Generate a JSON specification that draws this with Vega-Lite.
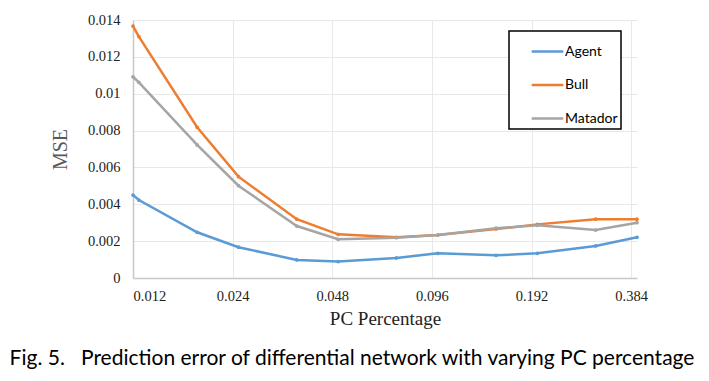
{
  "$schema": "https://vega.github.io/schema/vega-lite/v6.json",
  "width": 504,
  "height": 258,
  "autosize": "none",
  "padding": {"left": 133, "top": 20, "right": 72, "bottom": 103},
  "background": "white",
  "title": {
    "text": "Fig. 5.\u00a0\u00a0\u00a0Prediction error of differential network with varying PC percentage",
    "orient": "bottom",
    "anchor": "middle",
    "dx": -33,
    "offset": 19,
    "font": "Lato",
    "fontSize": 21,
    "fontWeight": "normal",
    "color": "#000000"
  },
  "data": {
    "values": [
      {"pc": 0.012, "mse": 0.0045, "series": "Agent"},
      {"pc": 0.0125, "mse": 0.00423, "series": "Agent"},
      {"pc": 0.01875, "mse": 0.00248, "series": "Agent"},
      {"pc": 0.025, "mse": 0.00167, "series": "Agent"},
      {"pc": 0.0375, "mse": 0.00098, "series": "Agent"},
      {"pc": 0.05, "mse": 0.00089, "series": "Agent"},
      {"pc": 0.075, "mse": 0.00109, "series": "Agent"},
      {"pc": 0.1, "mse": 0.00134, "series": "Agent"},
      {"pc": 0.15, "mse": 0.00123, "series": "Agent"},
      {"pc": 0.2, "mse": 0.00134, "series": "Agent"},
      {"pc": 0.3, "mse": 0.00174, "series": "Agent"},
      {"pc": 0.4, "mse": 0.00221, "series": "Agent"},
      {"pc": 0.012, "mse": 0.01367, "series": "Bull"},
      {"pc": 0.0125, "mse": 0.0131, "series": "Bull"},
      {"pc": 0.01875, "mse": 0.00818, "series": "Bull"},
      {"pc": 0.025, "mse": 0.0055, "series": "Bull"},
      {"pc": 0.0375, "mse": 0.00319, "series": "Bull"},
      {"pc": 0.05, "mse": 0.00237, "series": "Bull"},
      {"pc": 0.075, "mse": 0.00221, "series": "Bull"},
      {"pc": 0.1, "mse": 0.00233, "series": "Bull"},
      {"pc": 0.15, "mse": 0.00266, "series": "Bull"},
      {"pc": 0.2, "mse": 0.00291, "series": "Bull"},
      {"pc": 0.3, "mse": 0.00319, "series": "Bull"},
      {"pc": 0.4, "mse": 0.00319, "series": "Bull"},
      {"pc": 0.012, "mse": 0.01092, "series": "Matador"},
      {"pc": 0.0125, "mse": 0.01062, "series": "Matador"},
      {"pc": 0.01875, "mse": 0.00722, "series": "Matador"},
      {"pc": 0.025, "mse": 0.00501, "series": "Matador"},
      {"pc": 0.0375, "mse": 0.00282, "series": "Matador"},
      {"pc": 0.05, "mse": 0.0021, "series": "Matador"},
      {"pc": 0.075, "mse": 0.00219, "series": "Matador"},
      {"pc": 0.1, "mse": 0.00233, "series": "Matador"},
      {"pc": 0.15, "mse": 0.0027, "series": "Matador"},
      {"pc": 0.2, "mse": 0.00286, "series": "Matador"},
      {"pc": 0.3, "mse": 0.0026, "series": "Matador"},
      {"pc": 0.4, "mse": 0.003, "series": "Matador"}
    ]
  },
  "encoding": {
    "x": {
      "field": "pc",
      "type": "quantitative",
      "scale": {"type": "log", "base": 2, "domain": [0.012, 0.4], "nice": false},
      "axis": {
        "title": "PC Percentage",
        "values": [0.012, 0.024, 0.048, 0.096, 0.192, 0.384],
        "format": ".3f",
        "labelFont": "Liberation Serif",
        "labelFontSize": 14.5,
        "labelColor": "#222222",
        "labelPadding": 11,
        "ticks": false,
        "grid": true,
        "gridColor": "#e8e8e8",
        "domainColor": "#c8c8c8",
        "domainWidth": 1.5,
        "titleFont": "Liberation Serif",
        "titleFontSize": 19,
        "titleFontWeight": "normal",
        "titleColor": "#222222",
        "titlePadding": 7
      }
    },
    "y": {
      "field": "mse",
      "type": "quantitative",
      "scale": {"domain": [0, 0.014], "nice": false},
      "axis": {
        "title": "MSE",
        "values": [0, 0.002, 0.004, 0.006, 0.008, 0.01, 0.012, 0.014],
        "format": "~g",
        "labelFont": "Liberation Serif",
        "labelFontSize": 14.5,
        "labelColor": "#222222",
        "labelPadding": 13,
        "ticks": false,
        "grid": true,
        "gridColor": "#e8e8e8",
        "domainColor": "#c8c8c8",
        "domainWidth": 1.5,
        "titleFont": "Liberation Serif",
        "titleFontSize": 20,
        "titleFontWeight": "normal",
        "titleColor": "#595959",
        "titlePadding": 17
      }
    },
    "color": {
      "field": "series",
      "type": "nominal",
      "scale": {"domain": ["Agent", "Bull", "Matador"], "range": ["#5B9BD5", "#ED7D31", "#A5A5A5"]},
      "legend": {
        "title": null,
        "orient": "none",
        "legendX": 376,
        "legendY": 11,
        "symbolType": "stroke",
        "symbolSize": 1000,
        "symbolStrokeWidth": 2.5,
        "symbolOffset": 18,
        "labelFont": "Lato",
        "labelFontSize": 14,
        "labelColor": "#000000",
        "labelOffset": 0,
        "labelExpr": "datum.label + '\u00a0\u00a0\u00a0\u00a0\u00a0\u00a0\u00a0\u00a0'",
        "rowPadding": 8.5,
        "padding": 3,
        "strokeColor": "#000000",
        "fillColor": "white",
        "encode": {"legend": {"update": {"strokeWidth": {"value": 1.5}}}}
      }
    }
  },
  "layer": [
    {"mark": {"type": "line", "strokeWidth": 2.5}},
    {"mark": {"type": "point", "filled": true, "size": 14, "opacity": 1}}
  ],
  "config": {"view": {"stroke": null}}
}
